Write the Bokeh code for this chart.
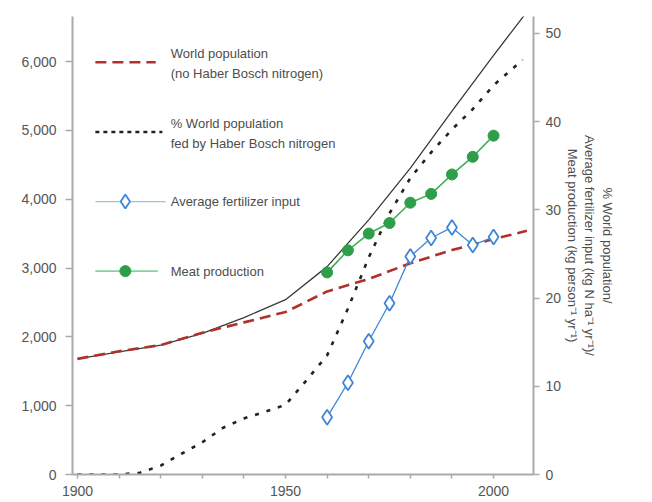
from bokeh.plotting import figure
from bokeh.models import Range1d, LinearAxis, FixedTicker, NumeralTickFormatter
from bokeh.core.properties import value
from bokeh.embed import file_html
from bokeh.resources import INLINE

# ---------------- data ----------------
pop_years = [1900, 1910, 1920, 1930, 1940, 1950, 1960, 1970, 1980, 1990, 2000, 2008]
world_pop = [1680, 1780, 1880, 2050, 2280, 2540, 3020, 3700, 4450, 5280, 6090, 6720]
no_hb_pop = [1680, 1790, 1880, 2060, 2210, 2360, 2660, 2840, 3070, 3260, 3420, 3540]

fed_years = [1900, 1905, 1910, 1915, 1920, 1925, 1930, 1935, 1940, 1945, 1950, 1955,
             1960, 1965, 1970, 1975, 1980, 1985, 1990, 1995, 2000, 2007]
pct_fed = [0, 0, 0, 0.2, 1.0, 2.35, 3.65, 5.3, 6.35, 7.1, 7.9, 10.65,
           13.5, 18.8, 24.6, 29.6, 33.6, 36.5, 39.1, 41.4, 44.1, 47.0]

obs_years = [1960, 1965, 1970, 1975, 1980, 1985, 1990, 1995, 2000]
fertilizer = [6.5, 10.4, 15.1, 19.4, 24.7, 26.8, 28.0, 26.0, 26.9]
meat = [22.9, 25.4, 27.3, 28.5, 30.8, 31.8, 34.0, 36.0, 38.4]

left_ticks = [0, 1000, 2000, 3000, 4000, 5000, 6000]
right_ticks = [0, 10, 20, 30, 40, 50]
x_ticks = [1900, 1910, 1920, 1930, 1940, 1950, 1960, 1970, 1980, 1990, 2000]
x_labels = {1900: "1900", 1950: "1950", 2000: "2000"}

legend_labels = [
    ["World population", "(no Haber Bosch nitrogen)"],
    ["% World population", "fed by Haber Bosch nitrogen"],
    ["Average fertilizer input"],
    ["Meat production"],
]
legend_rows = [5990, 4975, 3965, 2955]
legend_x0 = 1904.3
legend_x1 = [1918.8, 1920.4, 1921.2, 1919.3]
legend_marker_x = 1911.5
legend_text_x = 1922.4

right_title = ("% World population/\n"
               "Average fertilizer input (kg N ha\u207b\u00b9 yr\u207b\u00b9)/\n"
               "Meat production (kg person\u207b\u00b9 yr\u207b\u00b9)")

FONT = "Liberation Sans"
TXT = "#4d4d4d"
AX = "#aaaaaa"

p = figure(width=644, height=502, output_backend="svg", toolbar_location=None,
           x_range=Range1d(1898.8, 2009.6), y_range=Range1d(0, 6654),
           min_border_left=72, min_border_right=111, min_border_top=16,
           min_border_bottom=28)
p.extra_y_ranges = {"right": Range1d(0, 51.9)}
p.grid.visible = False
p.outline_line_color = None
p.background_fill_color = "white"
p.border_fill_color = "white"


def style_axis(ax):
    ax.axis_line_color = AX
    ax.axis_line_width = 2
    ax.major_tick_line_color = AX
    ax.major_tick_line_width = 1.5
    ax.major_tick_in = 0
    ax.minor_tick_line_color = None
    ax.major_label_text_font = FONT
    ax.major_label_text_font_size = "14px"
    ax.major_label_text_color = "#555555"


xa = p.xaxis[0]
style_axis(xa)
xa.ticker = FixedTicker(ticks=x_ticks)
xa.major_label_overrides = {t: x_labels.get(t, "") for t in x_ticks}
xa.major_tick_out = 4
xa.major_label_standoff = 7

ya = p.yaxis[0]
style_axis(ya)
ya.ticker = FixedTicker(ticks=left_ticks)
ya.formatter = NumeralTickFormatter(format="0,0")
ya.major_tick_out = 7
ya.major_label_standoff = 9

ra = LinearAxis(y_range_name="right")
style_axis(ra)
ra.ticker = FixedTicker(ticks=right_ticks)
ra.major_tick_out = 6
ra.major_label_standoff = 6
ra.axis_label = right_title
ra.axis_label_text_font = FONT
ra.axis_label_text_font_size = "13px"
ra.axis_label_text_font_style = "normal"
ra.axis_label_text_color = TXT
ra.axis_label_text_line_height = 1.15
ra.axis_label_standoff = 1
p.add_layout(ra, "right")

# ---------------- series ----------------
p.line(pop_years, world_pop, line_color="#3a3a3a", line_width=1.3)
p.line(pop_years, no_hb_pop, line_color="#b0302e", line_width=2.6, line_dash="11 6")
p.line(fed_years, pct_fed, y_range_name="right", line_color="#222222",
       line_width=2.6, line_dash="4 8")
p.line(obs_years, fertilizer, y_range_name="right", line_color="#3f86d6", line_width=1.3)
p.scatter(obs_years, fertilizer, y_range_name="right", marker="diamond", size=15,
          fill_color="white", line_color="#3f86d6", line_width=1.8)
p.line(obs_years, meat, y_range_name="right", line_color="#3fae55", line_width=1.6)
p.scatter(obs_years, meat, y_range_name="right", marker="circle", size=11,
          fill_color="#2f9e49", line_color="#2f9e49")

# ---------------- legend (hand drawn) ----------------
p.line([legend_x0, legend_x1[0]], [legend_rows[0]] * 2, line_color="#b0302e",
       line_width=2.6, line_dash="11 6")
p.line([legend_x0, legend_x1[1]], [legend_rows[1]] * 2, line_color="#222222",
       line_width=2.6, line_dash="4 4")
p.line([legend_x0, legend_x1[2]], [legend_rows[2]] * 2, line_color="#8ec9dc",
       line_width=1.3)
p.scatter([legend_marker_x], [legend_rows[2]], marker="diamond", size=14,
          fill_color="white", line_color="#3f86d6", line_width=1.8)
p.line([legend_x0, legend_x1[3]], [legend_rows[3]] * 2, line_color="#86d2a4",
       line_width=1.6)
p.scatter([legend_marker_x], [legend_rows[3]], marker="circle", size=11,
          fill_color="#2f9e49", line_color="#2f9e49")

for row, lines in zip(legend_rows, legend_labels):
    offs = [-8.5, 11.5] if len(lines) == 2 else [0]
    for txt, off in zip(lines, offs):
        p.text([legend_text_x], [row], text=[txt], y_offset=off,
               text_font=value(FONT), text_font_size="13px", text_color=TXT,
               text_baseline="middle", text_align="left")

open("out.html", "w").write(file_html(p, INLINE))
